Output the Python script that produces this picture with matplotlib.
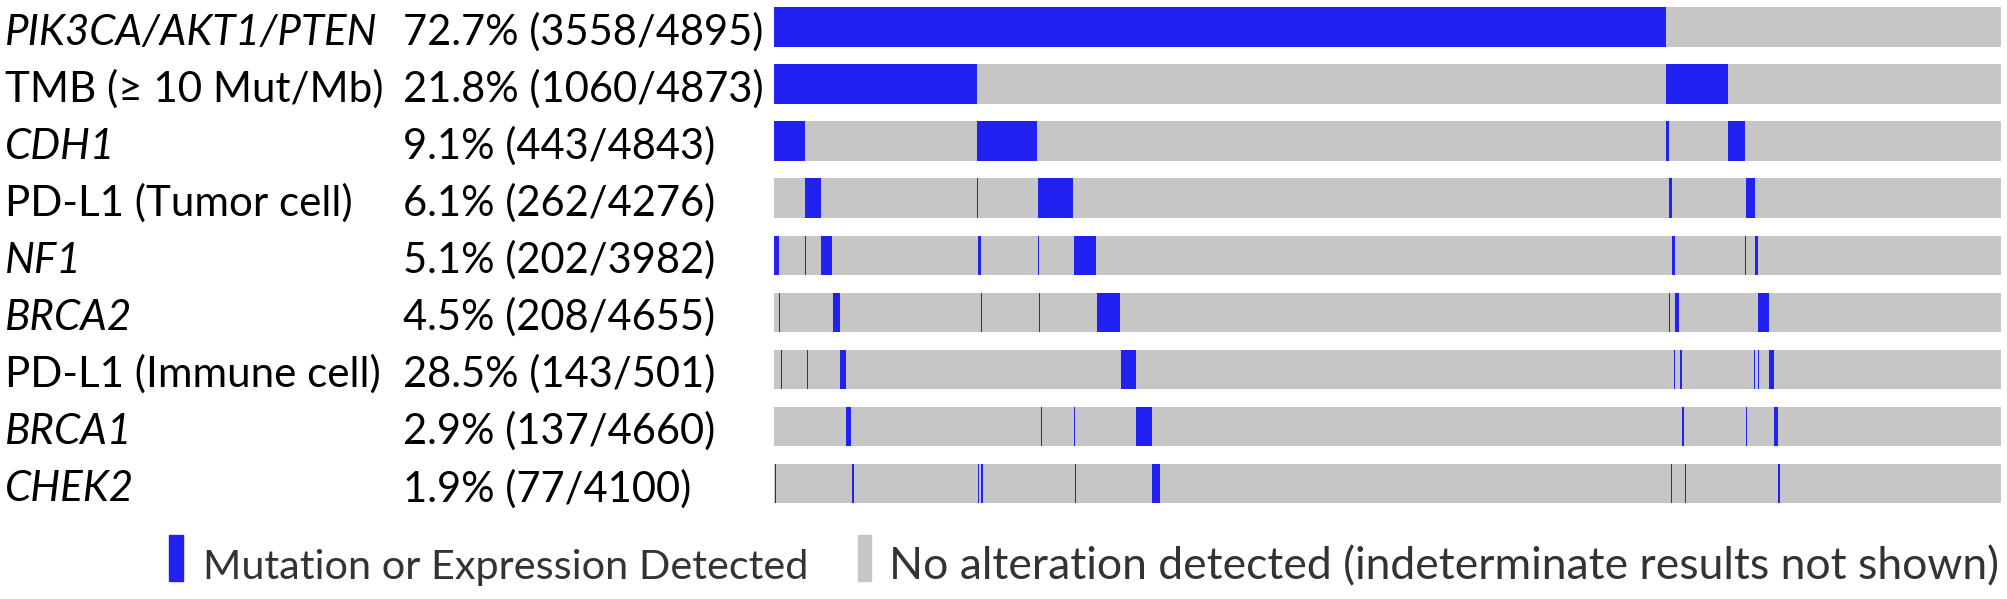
import matplotlib
matplotlib.use("Agg")
import matplotlib.pyplot as plt
from matplotlib.transforms import blended_transform_factory
from matplotlib.patches import Rectangle

# Samples ordered as in the oncoprint (one column per sample)
n_samples = 4895

row_names = ["PIK3CA/AKT1/PTEN", "TMB (\u2265 10 Mut/Mb)", "CDH1", "PD-L1 (Tumor cell)",
             "NF1", "BRCA2", "PD-L1 (Immune cell)", "BRCA1", "CHEK2"]
row_italic = [True, False, True, False, True, True, False, True, True]
row_freq = ["72.7% (3558/4895)", "21.8% (1060/4873)", "9.1% (443/4843)",
            "6.1% (262/4276)", "5.1% (202/3982)", "4.5% (208/4655)",
            "28.5% (143/501)", "2.9% (137/4660)", "1.9% (77/4100)"]

# altered sample ranges (start, end)
pik3ca = [(0, 3558)]
tmb = [(0, 810), (3558, 3808)]
cdh1 = [(0, 121), (810, 1050), (3558, 3572), (3808, 3876)]
pdl1_tumor = [(122, 187), (811, 814), (1051, 1193), (3558, 3560), (3572, 3584), (3877, 3913)]
nf1 = [(0, 20), (123, 127), (188, 231), (813, 824), (1052, 1057), (1195, 1284),
       (3558, 3560), (3584, 3594), (3876, 3878), (3913, 3926)]
brca2 = [(20, 22), (129, 131), (189, 191), (233, 262), (826, 828), (1057, 1062),
         (1287, 1380), (3572, 3574), (3594, 3612), (3809, 3811), (3926, 3969)]
pdl1_immune = [(25, 29), (131, 135), (189, 191), (233, 235), (263, 285), (1063, 1065),
               (1196, 1198), (1287, 1289), (1383, 1445), (3592, 3594), (3613, 3623),
               (3911, 3913), (3927, 3929), (3970, 3989)]
brca1 = [(30, 32), (190, 192), (286, 307), (1066, 1070), (1196, 1200), (1287, 1289),
         (1383, 1385), (1445, 1506), (3575, 3577), (3623, 3632), (3880, 3882),
         (3969, 3971), (3989, 4005)]
chek2 = [(3, 5), (133, 135), (286, 288), (309, 317), (814, 816), (825, 833), (1071, 1073),
         (1202, 1206), (1506, 1541), (3581, 3583), (3634, 3639), (3813, 3815),
         (3882, 3884), (4007, 4014)]
altered = [pik3ca, tmb, cdh1, pdl1_tumor, nf1, brca2, pdl1_immune, brca1, chek2]

legend_labels = ["Mutation or Expression Detected",
                 "No alteration detected (indeterminate results not shown)"]

blue = "#2121f2"
grey = "#c6c6c6"
font = "Lato"

W, H = 2008, 599
fig = plt.figure(figsize=(W / 100, H / 100), dpi=100)

# axes for the bars, in pixel geometry of the original
x0, x1 = 774.3, 2000.7
y_top, y_bot = 7.3, 503.3
ax = fig.add_axes([x0 / W, 1 - y_bot / H, (x1 - x0) / W, (y_bot - y_top) / H])
bar_h = 39.5 / 57.05
nrows = len(row_names)
ax.set_xlim(0, n_samples)
ax.set_ylim(nrows - 1 + bar_h / 2, -bar_h / 2)
ax.axis("off")

for i, segs in enumerate(altered):
    ax.broken_barh([(0, n_samples)], (i - bar_h / 2, bar_h), facecolors=grey, linewidth=0)
    ax.broken_barh([(a, b - a) for a, b in segs], (i - bar_h / 2, bar_h),
                   facecolors=blue, linewidth=0)

# row labels
tr = blended_transform_factory(fig.transFigure, ax.transData)
for i in range(nrows):
    ax.text(5 / W, i + 0.31, row_names[i], transform=tr, fontsize=30.3, family=font,
            style="italic" if row_italic[i] else "normal", va="baseline", ha="left")
    ax.text(403 / W, i + 0.31, row_freq[i], transform=tr, fontsize=30, family=font,
            va="baseline", ha="left")

# legend
fig.patches.append(Rectangle((169 / W, 1 - 581 / H), 14 / W, 46 / H,
                             transform=fig.transFigure, color=blue))
fig.text(203 / W, 1 - 579 / H, legend_labels[0], fontsize=29.8, family=font,
         color="#333333", va="baseline")
fig.patches.append(Rectangle((858 / W, 1 - 581 / H), 13 / W, 46 / H,
                             transform=fig.transFigure, color=grey))
fig.text(889 / W, 1 - 579 / H, legend_labels[1], fontsize=32, family=font,
         color="#333333", va="baseline")

fig.savefig("out.png", dpi=100)
